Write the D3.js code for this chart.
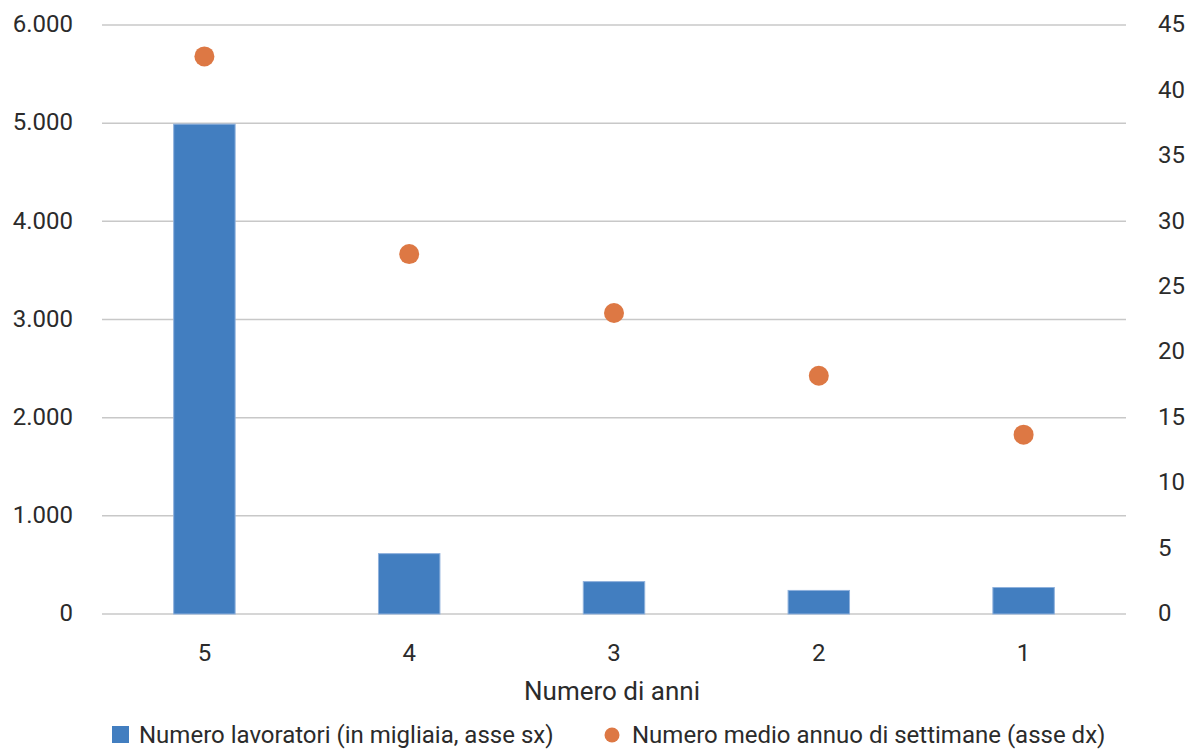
<!DOCTYPE html>
<html>
<head>
<meta charset="utf-8">
<script src="https://cdn.jsdelivr.net/npm/d3@7"></script>
<style>
  body { margin: 0; background: #fff; }
  text { font-family: Roboto, "Open Sans", sans-serif; fill: #2b2b2b; }
</style>
</head>
<body>
<div id="chart"></div>
<script>
// data
const categories = ['5', '4', '3', '2', '1'];
const workers = [4990, 615, 330, 240, 270];      // migliaia, asse sx
const weeks = [42.6, 27.5, 23.0, 18.2, 13.7];     // settimane, asse dx
const leftTicks = [0, 1000, 2000, 3000, 4000, 5000, 6000];
const rightTicks = [0, 5, 10, 15, 20, 25, 30, 35, 40, 45];

const totalW = 1201, totalH = 749;
const margin = { top: 25, right: 75, bottom: 135, left: 102 };
const width = totalW - margin.left - margin.right,
    height = totalH - margin.top - margin.bottom;

const svg = d3.select('#chart').append('svg')
    .attr('width', totalW)
    .attr('height', totalH)
    .append('g')
    .attr('transform', 'translate(' + margin.left + ',' + margin.top + ')');

const x = d3.scaleBand().domain(categories).range([0, width]).paddingInner(0.7).paddingOuter(0.35);
const yL = d3.scaleLinear().domain([0, 6000]).range([height, 0]);
const yR = d3.scaleLinear().domain([0, 45]).range([height, 0]);

const fmt = d3.formatLocale({ decimal: ',', thousands: '.', grouping: [3], currency: ['€', ''] }).format(',');

// gridlines
svg.append('g').selectAll('line')
    .data(leftTicks)
    .enter().append('line')
    .attr('x1', 0).attr('x2', width)
    .attr('y1', d => yL(d)).attr('y2', d => yL(d))
    .style('stroke', '#c8c8c8')
    .style('stroke-width', 1.5);

// left axis
const axL = svg.append('g')
    .call(d3.axisLeft(yL).tickValues(leftTicks).tickFormat(fmt).tickSize(0).tickPadding(29));
axL.select('.domain').remove();
axL.selectAll('text').style('font-size', '24px').style('fill', '#2b2b2b').attr('dy', '0.28em');

// right axis
const axR = svg.append('g')
    .attr('transform', 'translate(' + width + ',0)')
    .call(d3.axisRight(yR).tickValues(rightTicks).tickSize(0).tickPadding(32));
axR.select('.domain').remove();
axR.selectAll('text').style('font-size', '24px').style('fill', '#2b2b2b').attr('dy', '0.28em');

// bottom axis
const axB = svg.append('g')
    .attr('transform', 'translate(0,' + height + ')')
    .call(d3.axisBottom(x).tickSize(0).tickPadding(30));
axB.select('.domain').remove();
axB.selectAll('text').style('font-size', '24px').style('fill', '#2b2b2b');

svg.append('text')
    .attr('x', width / 2 - 2)
    .attr('y', height + 86)
    .style('text-anchor', 'middle')
    .style('font-size', '26px')
    .text('Numero di anni');

// bars
svg.selectAll('.bar')
    .data(workers)
    .enter().append('rect')
    .attr('class', 'bar')
    .attr('x', (d, i) => x(categories[i]))
    .attr('width', x.bandwidth())
    .attr('y', d => yL(d))
    .attr('height', d => height - yL(d))
    .style('fill', '#427ec0')
    .style('stroke', '#8fb1dc')
    .style('stroke-width', 1);

// dots
svg.selectAll('.dot')
    .data(weeks)
    .enter().append('circle')
    .attr('class', 'dot')
    .attr('cx', (d, i) => x(categories[i]) + x.bandwidth() / 2)
    .attr('cy', d => yR(d))
    .attr('r', 10)
    .style('fill', '#dd7844');

// legend
const legend = svg.append('g').attr('transform', 'translate(0,' + (height + 121) + ')');
legend.append('rect')
    .attr('x', 10).attr('y', -9)
    .attr('width', 17).attr('height', 17)
    .style('fill', '#427ec0');
legend.append('text')
    .attr('x', 37).attr('y', 0).attr('dy', '0.35em')
    .style('font-size', '24px')
    .text('Numero lavoratori (in migliaia, asse sx)');
legend.append('circle')
    .attr('cx', 510).attr('cy', 0).attr('r', 7.5)
    .style('fill', '#dd7844');
legend.append('text')
    .attr('x', 530).attr('y', 0).attr('dy', '0.35em')
    .style('font-size', '24px')
    .text('Numero medio annuo di settimane (asse dx)');
</script>
</body>
</html>
